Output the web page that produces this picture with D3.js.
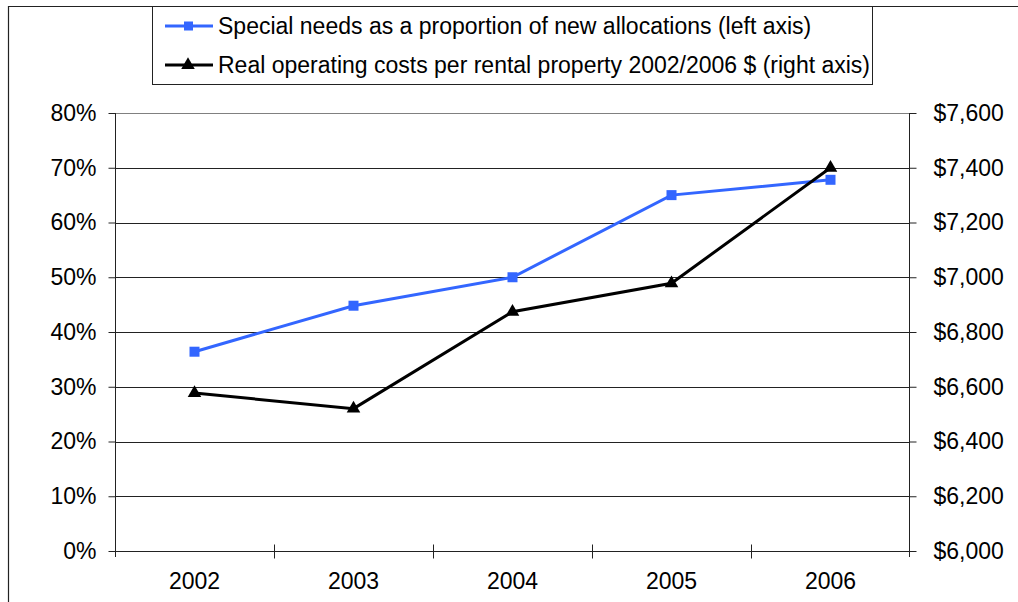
<!DOCTYPE html>
<html>
<head>
<meta charset="utf-8">
<script src="https://cdn.jsdelivr.net/npm/d3@7"></script>
<style>
  body { margin: 0; background: #fff; }
  text { font-family: "Liberation Sans", Arial, sans-serif; }
</style>
</head>
<body>
<div id="chart"></div>
<script>
// data
const years = ["2002", "2003", "2004", "2005", "2006"];
const specialNeeds = [0.364, 0.448, 0.500, 0.650, 0.678];
const operatingCosts = [6577, 6520, 6874, 6978, 7400];
const leftTicks = [0, 0.1, 0.2, 0.3, 0.4, 0.5, 0.6, 0.7, 0.8];
const rightTicks = [6000, 6200, 6400, 6600, 6800, 7000, 7200, 7400, 7600];
const seriesNames = [
    "Special needs as a proportion of new allocations (left axis)",
    "Real operating costs per rental property 2002/2006 $ (right axis)"
];

const W = 1018, H = 602;
const fs = 23;
const margin = { top: 113, right: 108, bottom: 51, left: 115 },
    width = W - margin.left - margin.right,
    height = H - margin.top - margin.bottom;

const root = d3.select("#chart").append("svg")
    .attr("width", W)
    .attr("height", H);

// outer frame (only top and left edges visible)
root.append("path")
    .attr("d", `M8.5,${H} V6.5 H${W}`)
    .attr("fill", "none")
    .attr("stroke", "#222")
    .attr("stroke-width", 1.2);

const svg = root.append("g")
    .attr("transform", `translate(${margin.left},${margin.top})`);

const x = d3.scaleBand().domain(years).range([0, width]);
const yL = d3.scaleLinear().domain([0, 0.8]).range([height, 0]);
const yR = d3.scaleLinear().domain([6000, 7600]).range([height, 0]);

// gridlines
svg.append("g")
    .selectAll("line")
    .data(leftTicks.filter(d => d > 0))
    .join("line")
    .attr("x1", 0).attr("x2", width)
    .attr("y1", d => Math.round(yL(d)) + 0.5)
    .attr("y2", d => Math.round(yL(d)) + 0.5)
    .attr("stroke", d => d === 0.8 ? "#808080" : "#222")
    .attr("stroke-width", 1);

// left axis
const axL = svg.append("g")
    .attr("transform", "translate(0.5,0)")
    .call(d3.axisLeft(yL).tickValues(leftTicks).tickFormat(d3.format(".0%")).tickSize(7).tickPadding(12));
axL.select(".domain").attr("d", `M0,0 V${height + 6}`).attr("stroke", "#222");

// right axis
const axR = svg.append("g")
    .attr("transform", `translate(${width - 0.5},0)`)
    .call(d3.axisRight(yR).tickValues(rightTicks).tickFormat(d => "$" + d3.format(",")(d)).tickSize(7).tickPadding(17));
axR.select(".domain").attr("d", `M0,0 V${height + 6}`).attr("stroke", "#222");

// bottom axis, ticks between categories
const axB = svg.append("g")
    .attr("transform", `translate(0,${height + 0.5})`);
axB.append("line")
    .attr("x1", 0).attr("x2", width)
    .attr("stroke", "#222");
axB.selectAll(".tk")
    .data(years.slice(1))
    .join("line")
    .attr("class", "tk")
    .attr("x1", d => Math.round(x(d)) + 0.5)
    .attr("x2", d => Math.round(x(d)) + 0.5)
    .attr("y1", -7).attr("y2", 7)
    .attr("stroke", "#222");
axB.selectAll("text")
    .data(years)
    .join("text")
    .attr("x", d => x(d) + x.bandwidth() / 2)
    .attr("y", 29)
    .attr("dy", "0.35em")
    .attr("text-anchor", "middle")
    .attr("font-size", fs)
    .text(d => d);

svg.selectAll(".tick text").attr("font-size", fs).attr("fill", "#000")
    .style("font-family", "'Liberation Sans', Arial, sans-serif");
svg.selectAll(".tick line").attr("stroke", "#222");

const cx = d => x(d) + x.bandwidth() / 2;

// blue series
svg.append("path")
    .datum(specialNeeds)
    .attr("fill", "none")
    .attr("stroke", "#3366FF")
    .attr("stroke-width", 3)
    .attr("d", d3.line().x((d, i) => cx(years[i])).y(d => yL(d)));
svg.selectAll(".sq")
    .data(specialNeeds)
    .join("rect")
    .attr("class", "sq")
    .attr("x", (d, i) => cx(years[i]) - 5)
    .attr("y", d => yL(d) - 5)
    .attr("width", 10).attr("height", 10)
    .attr("fill", "#3366FF");

// black series
svg.append("path")
    .datum(operatingCosts)
    .attr("fill", "none")
    .attr("stroke", "#000")
    .attr("stroke-width", 3)
    .attr("d", d3.line().x((d, i) => cx(years[i])).y(d => yR(d)));
const tri = d3.symbol().type(d3.symbolTriangle).size(80);
svg.selectAll(".tri")
    .data(operatingCosts)
    .join("path")
    .attr("class", "tri")
    .attr("transform", (d, i) => `translate(${cx(years[i])},${yR(d)})`)
    .attr("d", tri)
    .attr("fill", "#000");

// legend
const lg = root.append("g");
lg.append("rect")
    .attr("x", 152.5).attr("y", 6.5)
    .attr("width", 720).attr("height", 78)
    .attr("fill", "#fff")
    .attr("stroke", "#222");
const rows = lg.selectAll(".row")
    .data(seriesNames)
    .join("g")
    .attr("class", "row")
    .attr("transform", (d, i) => `translate(0,${26 + i * 39})`);
rows.append("line")
    .attr("x1", 165).attr("x2", 213)
    .attr("stroke", (d, i) => i === 0 ? "#3366FF" : "#000")
    .attr("stroke-width", 3);
rows.each(function (d, i) {
    const g = d3.select(this);
    if (i === 0) {
        g.append("rect").attr("x", 184).attr("y", -4.5).attr("width", 9).attr("height", 9).attr("fill", "#3366FF");
    } else {
        g.append("path").attr("transform", "translate(188,0)").attr("d", tri).attr("fill", "#000");
    }
});
rows.append("text")
    .attr("x", 218)
    .attr("dy", "0.35em")
    .attr("font-size", fs)
    .text(d => d);
</script>
</body>
</html>
